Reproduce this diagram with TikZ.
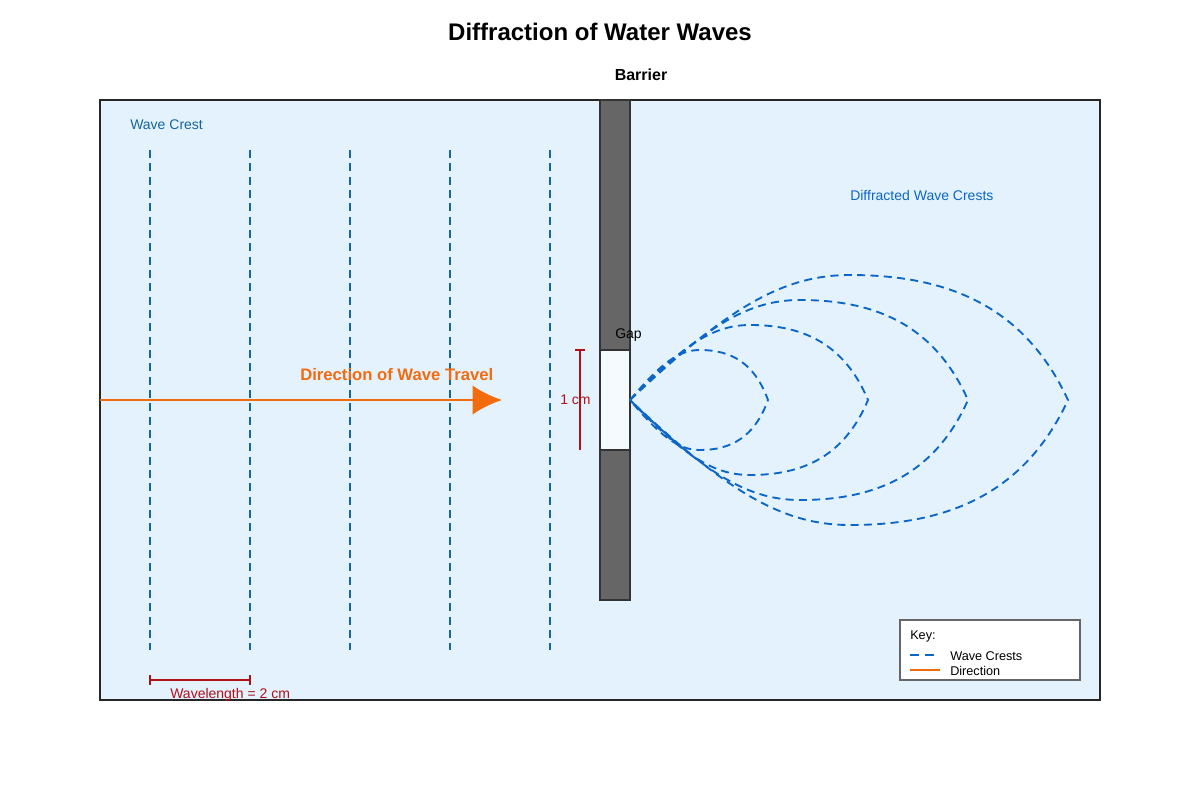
\documentclass[tikz,border=0pt]{standalone}
\usepackage{fontspec}
\setmainfont{Liberation Sans}
\usetikzlibrary{arrows.meta}
\definecolor{bg}{HTML}{E3F2FD}
\definecolor{crest}{HTML}{1565A0}
\definecolor{dcrest}{HTML}{0B66C8}
\definecolor{dir}{HTML}{F26B0F}
\definecolor{mred}{HTML}{B0101A}
\definecolor{bar}{HTML}{666666}
\begin{document}
\begin{tikzpicture}[x=0.75pt,y=-0.75pt,
  crestline/.style={crest,line width=1.4pt,dash pattern=on 6pt off 4pt},
  dline/.style={dcrest,line width=1.4pt,dash pattern=on 6pt off 4pt},
  measline/.style={mred,line width=1.3pt},
  lbl/.style={inner sep=0pt,anchor=west,font=\fontsize{10.5pt}{12pt}\selectfont}]
\useasboundingbox (0,0) rectangle (1200,800);
\node[font=\bfseries\fontsize{18pt}{20pt}\selectfont] (title) at (600,32) {Diffraction of Water Waves};
\node[font=\bfseries\fontsize{12pt}{14pt}\selectfont] (btitle) at (641,75) {Barrier};
\draw[fill=bg,draw=black!85,line width=1.2pt] (100,100) rectangle (1100,700);
\node[lbl,text=crest] (wc) at (130,125) {Wave Crest};
\foreach \x in {150,250,350,450,550} \draw[crestline] (\x,150) -- (\x,650);
\draw[fill=bar,draw=black!80,line width=1.2pt] (600,100) rectangle (630,600);
\draw[fill=bg!40!white,draw=black!80,line width=1.2pt] (600,350) rectangle (630,450);
\node[lbl] (gap) at (615,335) {Gap};
\draw[dir,line width=2pt,-{Latex[length=22pt,width=22pt]}] (100,400) -- (502,400);
\node[lbl,text=dir,font=\bfseries\fontsize{12.5pt}{14pt}\selectfont] (dirl) at (300,375) {Direction of Wave Travel};
\draw[measline] (580,350) -- (580,450);
\draw[measline] (575,350) -- (585,350);
\node[lbl,text=mred] (cm) at (560,400) {1 cm};
\foreach \k in {0,1,2,3}{
  \pgfmathsetmacro\px{700+50*\k}
  \pgfmathsetmacro\py{350-25*\k}
  \pgfmathsetmacro\qy{450+25*\k}
  \pgfmathsetmacro\tx{768+100*\k}
  \pgfmathsetmacro\ca{630+0.45*(\px-630)}
  \pgfmathsetmacro\cb{\px-0.3*(\px-630)}
  \pgfmathsetmacro\cc{\px+0.45*(\tx-\px)}
  \pgfmathsetmacro\cd{\tx-0.2*(\tx-\px)}
  \pgfmathsetmacro\ea{400-0.75*(400-\py)}
  \pgfmathsetmacro\eb{400+0.75*(\qy-400)}
  \draw[dline] (630,400) .. controls (\ca,\ea) and (\cb,\py) .. (\px,\py)
     .. controls (\cc,\py) and (\cd,\ea) .. (\tx,400)
     .. controls (\cd,\eb) and (\cc,\qy) .. (\px,\qy)
     .. controls (\cb,\qy) and (\ca,\eb) .. (630,400);
}
\node[lbl,text=dcrest] (dwc) at (850,195) {Diffracted Wave Crests};
\draw[measline] (150,680) -- (250,680);
\draw[measline] (150,675) -- (150,685);
\draw[measline] (250,675) -- (250,685);
\node[lbl,text=mred] (wl) at (170,695) {Wavelength = 2 cm};
\draw[fill=white,draw=black!60,line width=0.8pt] (900,620) rectangle (1080,680);
\node[lbl,font=\fontsize{9.5pt}{11pt}\selectfont] (key) at (910,636) {Key:};
\draw[dline,dash pattern=on 7pt off 4pt] (910,655) -- (935,655);
\node[lbl,font=\fontsize{9.5pt}{11pt}\selectfont] (k1) at (950,656) {Wave Crests};
\draw[dir,line width=1.4pt] (910,670) -- (940,670);
\node[lbl,font=\fontsize{9.5pt}{11pt}\selectfont] (k2) at (950,671) {Direction};
\end{tikzpicture}
\end{document}
